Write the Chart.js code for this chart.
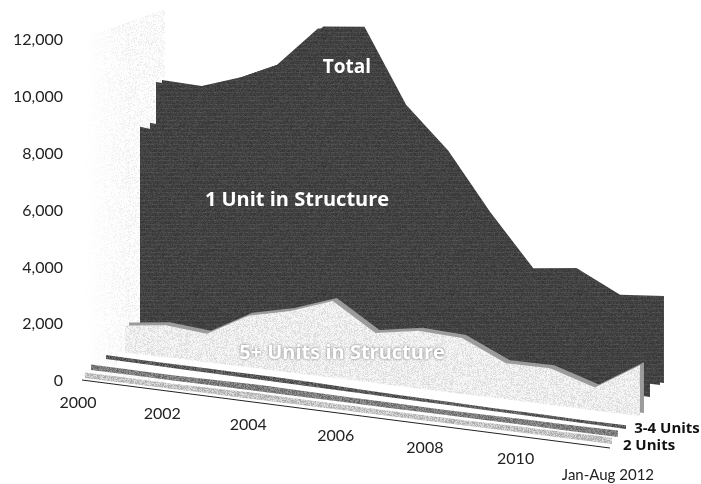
<!DOCTYPE html>
<html>
<head>
<meta charset="utf-8">
<title>Housing units by structure type</title>
<script src="https://cdn.jsdelivr.net/npm/chart.js@4"></script>
<style>
  html, body { margin: 0; background: #fff; }
  #wrap { width: 701px; height: 484px; position: relative; }
</style>
</head>
<body>
<div id="wrap"><canvas id="myChart"></canvas></div>
<script>
// values
const years = [2000, 2001, 2002, 2003, 2004, 2005, 2006, 2007, 2008, 2009, 2010, 2011, 2012];
const total = [10000, 9800, 10200, 10800, 12250, 12250, 9300, 7650, 5450, 3550, 3700, 2900, 3000];
const oneUnit = [8550, 8300, 8700, 8900, 9300, 9100, 7000, 5800, 3800, 2700, 2800, 2300, 2400];
const fivePlus = [1100, 1300, 1150, 2050, 2400, 2950, 1900, 2150, 2050, 1300, 1300, 800, 1750];
const threeFour = [170, 160, 170, 170, 180, 170, 140, 130, 120, 110, 120, 110, 130];
const twoUnits = [230, 220, 210, 230, 250, 230, 210, 200, 190, 190, 210, 210, 220];
const yTicks = [0, 2000, 4000, 6000, 8000, 10000, 12000];
const xTickYears = [2000, 2002, 2004, 2006, 2008, 2010, 2012];
const xTickNames = ["2000", "2002", "2004", "2006", "2008", "2010", "Jan-Aug 2012"];

// y axis: page height maps to these values
const AXIS_Y0 = 381.2;
const AXIS_K = 0.02846;
const toAxis = (py) => (AXIS_Y0 - py) / AXIS_K;

// perspective: years get slightly wider to the right, and taller
function depthF(i) {
  return (39.5 * i + 0.19 * i * i) / 501.4;
}
function vScale(f) {
  return 0.024 + 0.005 * f;
}

// one speckled / scanned tile
function makeTile(fn) {
  const c = document.createElement("canvas");
  c.width = c.height = 128;
  const g = c.getContext("2d");
  const img = g.createImageData(128, 128);
  let seed = 12345;
  for (let y = 0; y < 128; y++) {
    for (let x = 0; x < 128; x++) {
      seed = (seed * 1103515245 + 12345) & 0x7fffffff;
      const v = fn((seed >> 8) % 1000 / 1000, x, y);
      const p = (y * 128 + x) * 4;
      img.data[p] = img.data[p + 1] = img.data[p + 2] = v;
      img.data[p + 3] = 255;
    }
  }
  g.putImageData(img, 0, 0);
  return g.createPattern(c, "repeat");
}
const darkFill = makeTile((r, x, y) => (y % 4 === 0 ? 62 : 52) + r * 24);
const lightFill = makeTile((r) => (r < 0.55 ? 245 : 205 + r * 25));
const wallFill = makeTile((r) => (r < 0.72 ? 253 : 212 + r * 30));
const band34Fill = makeTile((r) => 60 + r * 60);
const band2Fill = makeTile((r) => 95 + r * 60);
const front2Fill = makeTile((r) => 165 + r * 60);

// wall fades out to the left
const fadeCtx = document.createElement("canvas").getContext("2d");
const wallFade = fadeCtx.createLinearGradient(84, 0, 130, 0);
wallFade.addColorStop(0, "rgba(255,255,255,1)");
wallFade.addColorStop(1, "rgba(255,255,255,0)");

// a surface: values stand on a slanted floor line
function surface(values, x0, x1, y0, y1, fill) {
  const top = values.map((v, i) => {
    const f = depthF(i);
    return { x: x0 + (x1 - x0) * f, y: toAxis(y0 + (y1 - y0) * f - v * vScale(f)) };
  });
  const base = values.map((v, i) => {
    const f = depthF(i);
    return { x: x0 + (x1 - x0) * f, y: toAxis(y0 + (y1 - y0) * f) };
  });
  return [top, base, fill];
}
// floor and wall pieces that are not data
function strip(x0, x1, t0, t1, b0, b1, fill) {
  return [
    [{ x: x0, y: toAxis(t0) }, { x: x1, y: toAxis(t1) }],
    [{ x: x0, y: toAxis(b0) }, { x: x1, y: toAxis(b1) }],
    fill,
  ];
}

// painted back to front
const layers = [
  strip(84, 165, 38, 9, 376, 386, wallFill),
  strip(84, 130, 30, 30, 372, 380, wallFade),
  surface(total, 162, 664, 320, 383, darkFill),
  surface(total, 156, 660, 322, 385, darkFill),
  surface(oneUnit, 150, 650, 328, 397, darkFill),
  surface(oneUnit, 140, 640, 332, 403, darkFill),
  strip(118, 636, 352, 418, 368, 438, "#ffffff"),
  surface(fivePlus, 129, 644, 349, 413, "#9b9b9b"),
  surface(fivePlus, 125, 640, 352, 416, lightFill),
  surface(threeFour, 106, 626, 359, 429, band34Fill),
  surface(threeFour, 100, 620, 368, 438, "#ffffff"),
  surface(twoUnits, 91, 618, 370, 437, band2Fill),
  surface(twoUnits, 85, 612, 378, 444, front2Fill),
];

const datasets = [];
layers.forEach(([top, base, fill], i) => {
  const order = layers.length - i;
  datasets.push({ data: top, fill: "+1", backgroundColor: fill, borderWidth: 0, pointRadius: 0, tension: 0, order });
  datasets.push({ data: base, fill: false, borderWidth: 0, pointRadius: 0, tension: 0, order });
});
// floor front line
datasets.push({
  data: [{ x: 82, y: toAxis(380) }, { x: 610, y: toAxis(448) }],
  fill: false, borderColor: "#222", borderWidth: 1, pointRadius: 0, order: 0,
});

// slanted x labels and names inside the chart
const namesInChart = [
  { text: "Total", x: 347, y: 68, size: 19, color: "#fff" },
  { text: "1 Unit in Structure", x: 297, y: 200, size: 20, color: "#fff" },
  { text: "5+ Units in Structure", x: 342, y: 353, size: 20, color: "#fff", halo: "#777" },
  { text: "3-4 Units", x: 667, y: 429, size: 15, color: "#111" },
  { text: "2 Units", x: 649, y: 446, size: 15, color: "#111" },
];
const labelPlugin = {
  id: "labelPlugin",
  afterDatasetsDraw(chart) {
    const c = chart.ctx;
    c.save();
    c.textAlign = "center";
    c.textBaseline = "middle";
    c.fillStyle = "#222";
    xTickYears.forEach((yr, n) => {
      const f = depthF(years.indexOf(yr));
      const last = n === xTickYears.length - 1;
      c.font = (last ? 15 : 16) + "px Lato";
      c.fillText(xTickNames[n], 78 + 530 * f, 403 + 68 * f + (last ? 4 : 0));
    });
    namesInChart.forEach((t) => {
      c.font = "bold " + t.size + "px 'Open Sans'";
      c.fillStyle = t.color;
      c.shadowColor = t.halo || "transparent";
      c.shadowBlur = t.halo ? 3 : 0;
      c.fillText(t.text, t.x, t.y);
    });
    c.restore();
  },
};

new Chart(document.getElementById("myChart"), {
  type: "line",
  data: { datasets },
  plugins: [labelPlugin],
  options: {
    responsive: true,
    maintainAspectRatio: false,
    animation: false,
    layout: { padding: 0 },
    plugins: { legend: { display: false }, tooltip: { enabled: false } },
    scales: {
      x: { type: "linear", min: 66, max: 701, display: false },
      y: {
        min: toAxis(484),
        max: toAxis(0),
        afterBuildTicks: (scale) => { scale.ticks = yTicks.map((value) => ({ value })); },
        afterFit: (scale) => {
          scale.width = 66;
          scale.paddingTop = 0;
          scale.paddingBottom = 0;
        },
        grid: { display: false, drawTicks: false },
        border: { display: false },
        ticks: {
          padding: 3,
          color: "#222",
          font: { family: "Lato", size: 16 },
          callback: (v) => v.toLocaleString("en-US"),
        },
      },
    },
  },
});
</script>
</body>
</html>
